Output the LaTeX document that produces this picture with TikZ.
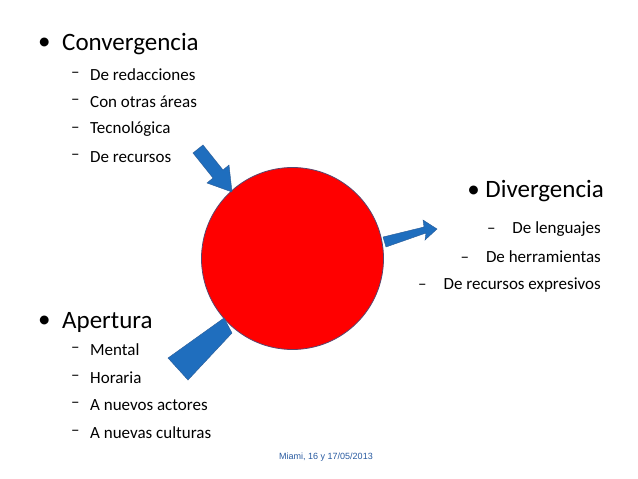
\documentclass[tikz,border=0pt]{standalone}
\usepackage{fontspec}
\setmainfont{Carlito}
\newfontfamily\arialf{Liberation Sans}
\begin{document}
\begin{tikzpicture}[x=1pt,y=-1pt,
  big/.style={font=\fontsize{25}{28}\selectfont, inner sep=0pt},
  sub/.style={font=\fontsize{17}{20}\selectfont, inner sep=0pt},
  arr/.style={fill={rgb,255:red,31;green,110;blue,190}, draw={rgb,255:red,40;green,90;blue,150}, line width=0.4pt}]
\useasboundingbox (0,0) rectangle (638,479);
\node[circle, minimum size=182pt, fill=red, draw={rgb,255:red,90;green,70;blue,110}, line width=0.8pt] (c) at (292.5,258.5) {};
% convergencia
\node[big, anchor=west] (b1) at (38,44) {•};
\node[big, anchor=west] (t1) at (62,44) {Convergencia};
\foreach \t [count=\i] in {De redacciones,Con otras áreas,Tecnológica,De recursos}{
  \node[sub, anchor=west] (d1\i) at (71,{47+27.5*\i}) {–};
  \node[sub, anchor=west] (s1\i) at (90,{47+27.5*\i}) {\t};
}
% apertura
\node[big, anchor=west] (b2) at (38,322) {•};
\node[big, anchor=west] (t2) at (62,322) {Apertura};
\foreach \t [count=\i] in {Mental,Horaria,A nuevos actores,A nuevas culturas}{
  \node[sub, anchor=west] (d2\i) at (71,{322+27.7*\i}) {–};
  \node[sub, anchor=west] (s2\i) at (90,{322+27.7*\i}) {\t};
}
% divergencia
\node[big, anchor=east] (t3) at (604,191) {• Divergencia};
\node[sub, anchor=east] (s31) at (601,229) {–\quad De lenguajes};
\node[sub, anchor=east] (s32) at (601,257) {–\quad De herramientas};
\node[sub, anchor=east] (s33) at (601,285) {–\quad De recursos expresivos};
\node[font=\arialf\fontsize{9}{11}\selectfont, text={rgb,255:red,40;green,90;blue,160}, inner sep=0pt] (f) at (326,457) {Miami, 16 y 17/05/2013};
% arrows
\draw[arr] (193,153) -- (203,145) -- (223,170) -- (229,165) -- (232,192) -- (207,183) -- (213,178) -- cycle;
\draw[arr] (383,237) -- (424,227) -- (423,220) -- (437,229) -- (425,240) -- (426,233) -- (386,247) -- cycle;
\draw[arr] (224,318) -- (232,333) -- (188,380) -- (168,358) -- cycle;
\end{tikzpicture}
\end{document}
